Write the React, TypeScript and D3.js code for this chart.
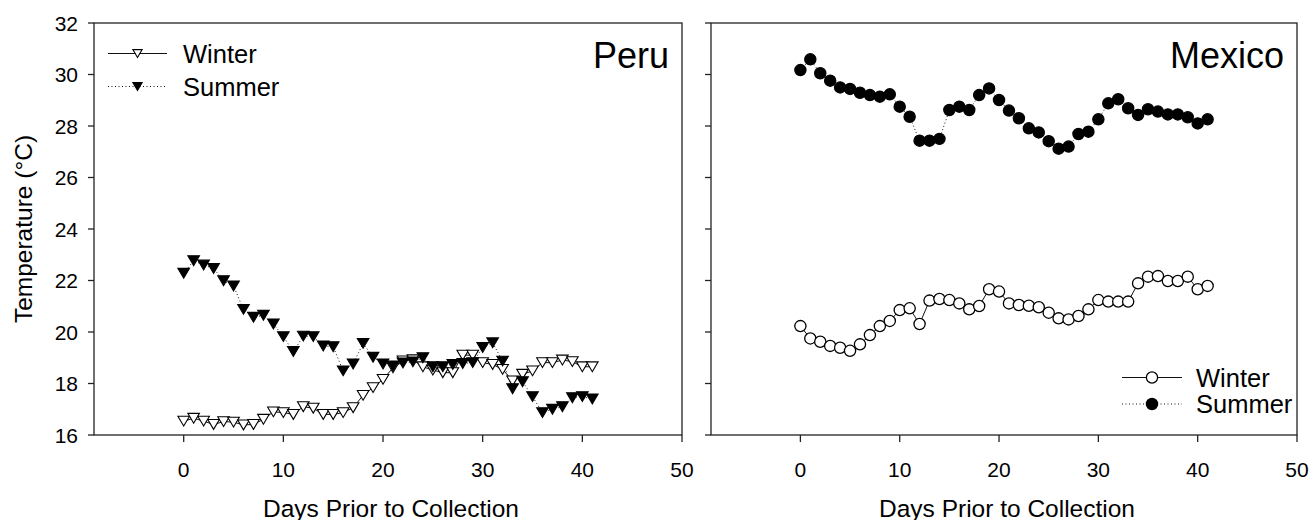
import * as d3 from "d3";

// days before collection (x values)
const days = [
  0, 1, 2, 3, 4, 5, 6, 7, 8, 9, 10, 11, 12, 13, 14, 15, 16, 17, 18, 19, 20,
  21, 22, 23, 24, 25, 26, 27, 28, 29, 30, 31, 32, 33, 34, 35, 36, 37, 38, 39,
  40, 41,
];

const peruWinter = [
  16.54, 16.65, 16.54, 16.41, 16.52, 16.5, 16.39, 16.41, 16.61, 16.9,
  16.87, 16.8, 17.1, 17.04, 16.8, 16.8, 16.87, 17.06, 17.54, 17.84,
  18.16, 18.61, 18.88, 18.92, 18.65, 18.52, 18.42, 18.42, 19.1, 19.1,
  18.81, 18.74, 18.55, 18.1, 18.36, 18.49, 18.81, 18.81, 18.91, 18.85,
  18.65, 18.65,
];

const peruSummer = [
  22.28, 22.77, 22.6, 22.47, 21.99, 21.79, 20.88, 20.57, 20.65, 20.31,
  19.82, 19.24, 19.84, 19.82, 19.46, 19.43, 18.49, 18.76, 19.56, 19.02,
  18.76, 18.68, 18.8, 18.84, 19.0, 18.65, 18.65, 18.74, 18.78, 18.81,
  19.4, 19.58, 18.87, 17.8, 18.07, 17.49, 16.87, 17.0, 17.1, 17.45,
  17.49, 17.4,
];

const mexicoWinter = [
  20.23, 19.75, 19.62, 19.46, 19.39, 19.27, 19.52, 19.88, 20.23, 20.43,
  20.85, 20.92, 20.31, 21.22, 21.28, 21.24, 21.11, 20.88, 21.01, 21.66,
  21.57, 21.11, 21.05, 21.02, 20.96, 20.75, 20.53, 20.49, 20.62, 20.88,
  21.24, 21.18, 21.18, 21.18, 21.89, 22.15, 22.17, 21.98, 21.98, 22.15,
  21.66, 21.79,
];

const mexicoSummer = [
  30.17, 30.59, 30.05, 29.76, 29.5, 29.44, 29.29, 29.2, 29.14, 29.23,
  28.75, 28.36, 27.43, 27.43, 27.5, 28.62, 28.75, 28.62, 29.2, 29.46,
  29.01, 28.6, 28.3, 27.91, 27.75, 27.41, 27.12, 27.2, 27.69, 27.78,
  28.26, 28.88, 29.04, 28.69, 28.43, 28.65, 28.56, 28.45, 28.45, 28.34,
  28.1, 28.26,
];

const xTicks = [0, 10, 20, 30, 40, 50];
const yTicks = [16, 18, 20, 22, 24, 26, 28, 30, 32];
const seriesNames = ["Winter", "Summer"];

const FONT = "'Liberation Sans', Arial, Helvetica, sans-serif";
const W = 1312;
const H = 520;
const top = 23;
const bottom = 435;

const y = d3.scaleLinear().domain([16, 32]).range([bottom, top]);

type Shape = "triangle" | "circle";

function Marker({ shape, cx, cy, filled, size = 1 }: { shape: Shape; cx: number; cy: number; filled: boolean; size?: number }) {
  const fill = filled ? "#000" : "#fff";
  if (shape === "circle") {
    return <circle cx={cx} cy={cy} r={5.6 * size} fill={fill} stroke="#000" strokeWidth={1.3} />;
  }
  const hw = 5.8 * size;
  const hh = 4.9 * size;
  const d = `M${cx - hw},${cy - hh}L${cx + hw},${cy - hh}L${cx},${cy + hh}Z`;
  return <path d={d} fill={fill} stroke="#000" strokeWidth={1.1} strokeLinejoin="miter" />;
}

interface PanelProps {
  left: number;
  right: number;
  winter: number[];
  summer: number[];
  shape: Shape;
  title: string;
  showYLabels: boolean;
  legend: { x1: number; x2: number; tx: number; rows: number[] };
}

function Panel({ left, right, winter, summer, shape, title, showYLabels, legend }: PanelProps) {
  const x = d3.scaleLinear().domain([-9, 50]).range([left, right]);
  const line = d3
    .line<number>()
    .x((_, i) => x(days[i]))
    .y((d) => y(d));

  return (
    <g>
      {/* series lines */}
      <path d={line(winter) ?? ""} fill="none" stroke="#111" strokeWidth={1} />
      <path d={line(summer) ?? ""} fill="none" stroke="#111" strokeWidth={1} strokeDasharray="1,2.5" />

      {winter.map((v, i) => (
        <Marker key={"w" + i} shape={shape} cx={x(days[i])} cy={y(v)} filled={false} />
      ))}
      {summer.map((v, i) => (
        <Marker key={"s" + i} shape={shape} cx={x(days[i])} cy={y(v)} filled={true} />
      ))}

      {/* frame */}
      <rect x={left} y={top} width={right - left} height={bottom - top} fill="none" stroke="#222" strokeWidth={1.3} />

      {/* y ticks */}
      {yTicks.map((t) => (
        <g key={"y" + t}>
          <line x1={left - 6} x2={left} y1={y(t)} y2={y(t)} stroke="#222" strokeWidth={1.3} />
          {showYLabels && (
            <text x={left - 16} y={y(t)} dy="0.36em" textAnchor="end" fontSize={21} fontFamily={FONT}>
              {t}
            </text>
          )}
        </g>
      ))}

      {/* x ticks */}
      {xTicks.map((t) => (
        <g key={"x" + t}>
          <line x1={x(t)} x2={x(t)} y1={bottom} y2={bottom + 7} stroke="#222" strokeWidth={1.3} />
          <text x={x(t)} y={476.5} textAnchor="middle" fontSize={21} fontFamily={FONT}>
            {t}
          </text>
        </g>
      ))}

      <text x={(left + right) / 2 + 3} y={516.5} textAnchor="middle" fontSize={24.5} fontFamily={FONT}>
        Days Prior to Collection
      </text>

      <text x={right - 13} y={67.5} textAnchor="end" fontSize={36} fontFamily={FONT}>
        {title}
      </text>

      {/* legend */}
      {seriesNames.map((name, i) => {
        const ly = legend.rows[i];
        const mx = (legend.x1 + legend.x2) / 2;
        return (
          <g key={name}>
            <line
              x1={legend.x1}
              x2={legend.x2}
              y1={ly}
              y2={ly}
              stroke="#111"
              strokeWidth={1}
              strokeDasharray={i === 1 ? "1,2.5" : undefined}
            />
            <Marker shape={shape} cx={mx} cy={ly} filled={i === 1} size={shape === "circle" ? 1 : 0.8} />
            <text x={legend.tx} y={ly} dy="0.36em" fontSize={25.5} fontFamily={FONT}>
              {name}
            </text>
          </g>
        );
      })}
    </g>
  );
}

export default function App() {
  return (
    <div style={{ position: "absolute", left: 0, top: 0, background: "#fff" }}>
      <svg width={W} height={H} viewBox={`0 0 ${W} ${H}`} style={{ display: "block" }}>
        <rect width={W} height={H} fill="#fff" />
        <text
          transform={`translate(31.5,229) rotate(-90)`}
          textAnchor="middle"
          fontSize={24.5}
          fontFamily={FONT}
        >
          Temperature (°C)
        </text>
        <Panel
          left={94}
          right={682}
          winter={peruWinter}
          summer={peruSummer}
          shape="triangle"
          title="Peru"
          showYLabels={true}
          legend={{ x1: 108, x2: 167, tx: 183, rows: [53.5, 86.5] }}
        />
        <Panel
          left={711}
          right={1297}
          winter={mexicoWinter}
          summer={mexicoSummer}
          shape="circle"
          title="Mexico"
          showYLabels={false}
          legend={{ x1: 1122, x2: 1182, tx: 1196, rows: [377.5, 404] }}
        />
      </svg>
    </div>
  );
}
